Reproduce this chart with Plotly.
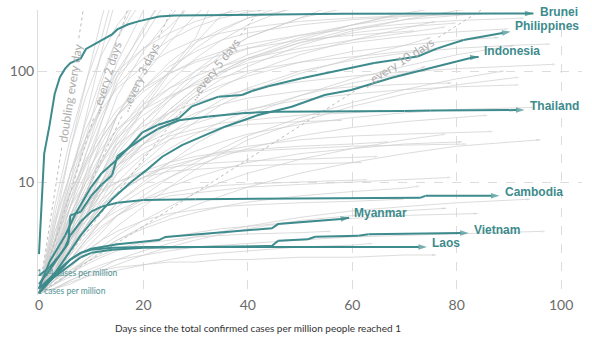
import math
import plotly.graph_objects as go

# ---------------- data ----------------
COUNTRIES = ["Brunei", "Philippines", "Indonesia", "Thailand",
             "Cambodia", "Myanmar", "Vietnam", "Laos"]

BRUNEI_DAYS = [0, 1, 2, 3, 4, 5, 6, 7, 8, 9, 10, 12, 14, 15, 17, 19, 21, 23, 26, 31, 40, 58, 94.7]
BRUNEI_VALS = [2.24, 18, 32, 62, 88, 105, 118, 124, 130, 158, 168, 190, 214, 237, 262, 280, 295, 309, 316, 318, 323, 328, 330]

PHILIPPINES_DAYS = [0, 2, 5, 7, 10, 12, 15, 17, 19.8, 22.7, 26.8, 29.3, 34.4, 38.9, 40.8, 43.9, 50.3, 57.9, 64.2, 72.5, 76.3, 81.3, 86.5, 90.3]
PHILIPPINES_VALS = [1.1, 1.9, 3.3, 5.2, 9, 12, 16, 20, 28, 32.6, 37.5, 48, 58.7, 60.8, 66, 73, 86, 102, 118, 135, 160, 190, 211, 226]

INDONESIA_DAYS = [0, 3, 6, 8, 10, 12, 14, 16, 18, 20.6, 23.6, 27.4, 31.2, 35.6, 42, 48.4, 54.7, 59.8, 67.4, 77, 83.2, 84.2]
INDONESIA_VALS = [1.0, 1.5, 2.4, 3.3, 4.3, 5.5, 7, 8.5, 10.3, 12.8, 16.9, 21.5, 25.6, 31.5, 40.1, 47.7, 60.8, 67.4, 86.5, 113, 133, 134]

THAILAND_DAYS = [0, 2, 4, 5.6, 6, 8, 10, 12, 14, 15, 17, 19.8, 22.7, 26.8, 32.5, 38.9, 45, 52, 60, 70, 75, 85, 93]
THAILAND_VALS = [1.2, 1.6, 2.2, 2.8, 5.0, 5.4, 7.5, 9.5, 11.5, 17, 20, 24.7, 30, 36, 39, 41.7, 43, 43, 43.5, 43.5, 44, 44.5, 44.5]

CAMBODIA_DAYS = [0, 2, 4, 5, 6, 8, 10, 12, 15, 20, 30, 50, 73, 74, 88.2]
CAMBODIA_VALS = [1.44, 1.7, 2.2, 2.6, 3.3, 4.4, 5.4, 6.0, 6.5, 6.9, 7.0, 7.1, 7.2, 7.5, 7.53]

MYANMAR_DAYS = [0, 3, 6, 8, 10, 12, 15, 19.8, 23, 24.2, 32.5, 40.1, 44.6, 45.8, 50.3, 54.7, 57.9, 59.4]
MYANMAR_VALS = [1.0, 1.4, 2.0, 2.3, 2.5, 2.6, 2.75, 2.9, 3.0, 3.2, 3.45, 3.64, 3.83, 4.18, 4.33, 4.54, 4.64, 4.77]

VIETNAM_DAYS = [0, 3, 6, 8, 10, 14, 20, 30, 44.6, 45.8, 51.5, 52.9, 61.2, 63.1, 73.8, 82.3]
VIETNAM_VALS = [1.1, 1.4, 1.8, 2.1, 2.3, 2.45, 2.55, 2.6, 2.65, 2.96, 3.05, 3.21, 3.28, 3.38, 3.45, 3.47]

LAOS_DAYS = [0, 3, 6, 8, 10, 14, 20, 30, 50, 74.3]
LAOS_VALS = [1.1, 1.5, 2.0, 2.3, 2.45, 2.55, 2.6, 2.6, 2.6, 2.6]

# background countries: values on a shared day grid, last point at its own end day
GRAY_GRID = [0, 3, 6, 9, 12, 15, 20, 25, 30, 35, 40, 50, 60, 70, 80, 90, 100]
GRAY_LINES = [
    [1, 4, 20, 80, 300, 900],
    [1, 3, 10, 40, 150, 500],
    [1, 2.5, 8, 25, 80, 200, 600],
    [1, 2, 6, 18, 50, 120, 350, 800],
    [1, 3, 12, 35, 90, 200, 450],
    [1, 1.5, 4, 12, 35, 90, 250, 500],
    [1, 2, 5, 10, 25, 60, 150, 300, 600],
    [1, 1.8, 3.5, 8, 18, 40, 90, 180, 320, 500],
    [1, 1.5, 3, 6, 12, 22, 45, 80, 130, 190, 260, 400],
    [1, 1.3, 2.5, 5, 10, 18, 35, 60, 100, 150, 200, 300, 380],
    [1, 2, 4, 7, 12, 20, 35, 55, 80, 110, 140, 200, 260, 320],
    [1, 1.6, 3, 5, 9, 15, 28, 45, 70, 100, 130, 190, 260, 330, 400],
    [1, 2.2, 5, 10, 18, 30, 50, 70, 90, 110, 130, 160, 190, 220, 250],
    [1, 1.4, 2.2, 4, 7, 12, 22, 38, 60, 85, 110, 170, 230, 290, 350, 400],
    [1, 3, 8, 16, 28, 45, 70, 95, 120, 140, 160, 190, 210, 230],
    [1, 1.8, 3.5, 6, 10, 16, 28, 42, 60, 75, 90, 120, 150, 170, 190, 200],
    [1, 2.5, 6, 12, 20, 30, 45, 60, 75, 88, 100, 120, 135, 150, 160],
    [1, 1.5, 2.5, 4, 6, 9, 15, 24, 35, 50, 65, 95, 130, 170, 200],
    [1, 2, 4, 7, 10, 14, 20, 26, 30, 34, 36, 40, 42, 44],
    [1, 1.8, 3, 5, 8, 12, 18, 24, 28, 31, 33, 35, 36],
    [1, 1.5, 2.5, 4, 6, 8, 11, 14, 16, 18, 19, 20, 21, 21.5, 22],
    [1, 2, 3.5, 5, 7, 9, 11, 12.5, 13, 13.5, 14, 14.5, 15],
    [1, 1.4, 2, 3, 4, 5, 6.5, 7.5, 8, 8.5, 9, 9.5, 10, 10.5, 11],
    [1, 1.3, 1.8, 2.4, 3, 3.6, 4.5, 5.2, 5.6, 6, 6.2, 6.5, 6.7, 7],
    [1, 1.2, 1.5, 1.8, 2.1, 2.4, 2.8, 3, 3.2, 3.3, 3.4, 3.5, 3.6],
    [1, 1.1, 1.3, 1.5, 1.6, 1.7, 1.8, 1.9, 1.9, 2, 2, 2.1, 2.1, 2.2, 2.2],
    [1, 1.2, 1.4, 1.6, 1.8, 2, 2.2, 2.4, 2.6, 2.7, 2.8, 3, 3.2, 3.3, 3.4, 3.5, 3.6],
    [1, 1.5, 2.2, 3.2, 4.5, 6, 8.5, 11, 14, 17, 20, 26, 31, 35, 38, 40],
    [1, 2.5, 5, 8, 12, 16, 22, 28, 34, 40, 45, 55, 62, 68, 72, 75],
    [1, 1.6, 2.6, 4, 6, 9, 14, 20, 27, 35, 44, 60, 78, 95, 110],
    [1, 1.3, 1.8, 2.5, 3.5, 5, 7.5, 11, 15, 20, 26, 38, 52, 68, 85, 100],
    [1, 1.2, 1.5, 2, 2.6, 3.3, 4.5, 6, 8, 10, 12, 16, 20, 24, 27],
    [1, 1.4, 2, 2.8, 3.8, 5, 7, 9, 11, 13, 15, 18, 20, 22, 23],
    [1, 2, 3, 4.5, 6, 8, 11, 15, 19, 23, 27, 33, 38, 42, 45, 47],
    [1, 3, 6, 10, 15, 22, 32, 42, 52, 60, 68, 80, 90, 98, 105, 110, 115],
    [1, 1.7, 3, 5, 8, 13, 22, 35, 52, 72, 95, 140, 190, 240, 280],
    [1, 2.8, 7, 14, 25, 40, 65, 95, 125, 150, 175, 210, 240, 265, 285, 300],
    [1, 1.5, 2.5, 4, 6.5, 10, 17, 27, 40, 55, 70, 100, 125, 145, 160, 170, 175],
    [1, 2, 4, 8, 15, 28, 55, 100, 160, 230, 300, 400],
    [1, 1.3, 2, 3, 4.5, 6.5, 10, 15, 22, 30, 40, 60, 85, 110, 140, 170],
    [1, 1.2, 1.6, 2, 2.5, 3, 3.8, 4.6, 5.3, 6, 6.6, 7.5, 8.2, 8.8, 9.2],
    [1, 1.1, 1.2, 1.4, 1.5, 1.6, 1.8, 2, 2.2, 2.3, 2.4, 2.6, 2.7, 2.8],
    [1, 1.3, 1.6, 1.9, 2.2, 2.5, 2.9, 3.2, 3.5, 3.8, 4, 4.4, 4.7, 5, 5.2],
    [1, 4, 12, 30, 60, 100, 160, 220, 280, 330, 370],
    [1, 5, 20, 60, 140, 260, 450],
    [1, 2.5, 7, 18, 40, 75, 130, 190, 250, 300, 340, 400],
    [1, 1.8, 4, 8, 15, 26, 45, 70, 100, 130, 160, 210, 260, 300],
    [1, 1.4, 2.5, 4.5, 8, 14, 26, 45, 70, 100, 130, 180, 220, 250, 270],
    [1, 2, 5, 11, 22, 40, 70, 110, 150, 190, 220, 260, 290, 310, 325],
    [1, 1.6, 3, 5.5, 9, 14, 22, 32, 42, 50, 57, 66, 72, 76, 78],
    [1, 1.3, 2, 3, 4.5, 6.5, 9.5, 13, 16, 19, 21, 24, 26, 27, 28, 28.5],
    [1, 1.1, 1.3, 1.5, 1.7, 2, 2.4, 2.8, 3.2, 3.6, 4, 4.8, 5.5, 6, 6.5, 7],
    [1, 3.5, 10, 25, 50, 90, 160, 250, 350],
    [1, 1.5, 3, 6, 12, 24, 50, 100, 200, 400],
    [1, 2, 4.5, 9, 16, 25, 40, 58, 78, 98, 118, 150, 180, 205, 225, 240],
    [1, 1.2, 1.5, 1.9, 2.4, 3, 4, 5, 6.2, 7.5, 9, 12, 15, 18, 21, 24],
    [1, 2.2, 4, 6, 8, 10, 12.5, 15, 17, 18.5, 19.5, 21, 22, 23],
    [1, 2.5, 4.5, 6.5, 8.5, 10, 12, 13.5, 14.5, 15, 15.5, 16, 16.5, 17],
    [1, 1.6, 2.5, 3.5, 4.5, 5.5, 7, 8, 8.8, 9.3, 9.6, 10, 10.3, 10.5],
    [1, 1.5, 2.8, 5, 9, 16, 30, 55, 90, 140, 200, 300, 400],
    [1, 2.2, 6, 15, 35, 80, 200, 400],
    [1, 1.6, 3.5, 8, 18, 40, 100, 220, 450],
    [1, 2.8, 9, 22, 50, 100, 230, 420],
    [1, 1.4, 2.6, 5, 10, 20, 45, 95, 180, 320, 450],
    [1, 3.5, 8, 15, 25, 40, 70, 120, 180, 240, 300, 380],
    [1, 2, 3.5, 6, 9, 14, 25, 42, 65, 95, 125, 180, 240, 290, 330],
    [1, 4.5, 12, 25, 45, 70, 110, 150, 190, 220, 245, 280, 300, 315, 325, 330],
    [1, 1.3, 1.7, 2.3, 3, 4, 6, 9, 13, 18, 24, 35, 48, 62, 75, 88],
    [1, 1.1, 1.25, 1.4, 1.6, 1.8, 2.2, 2.6, 3, 3.4, 3.8, 4.5, 5, 5.5, 5.8],
    [1, 6, 25, 80, 200, 450],
]
GRAY_END = [15, 15, 20, 25, 20, 25, 30, 35, 50, 60, 68, 80, 78, 90, 72, 88, 77, 75, 66, 58,
            82, 62, 79, 70, 56, 76, 97, 86, 92, 74, 89, 78, 81, 95, 99, 76, 93, 98, 48, 91,
            73, 64, 84, 44, 19, 52, 69, 80, 83, 79, 87, 94, 28, 33, 90, 96, 67, 65, 63, 57,
            24, 29, 23, 42, 51, 85, 88, 92, 78, 14]

GUIDE_PERIODS = [1, 2, 3, 5, 10]
GUIDE_LABELS = ["doubling every day", "...every 2 days", "...every 3 days",
                "...every 5 days", "...every 10 days"]
GUIDE_LABEL_DAY = [6.0, 12.9, 19.4, 33.5, 68.9]
GUIDE_LABEL_LEN = [104, 80, 80, 80, 88]

START_LABELS = ["1.44 cases per million", "1 cases per million"]
START_LABEL_VALUES = [1.5, 1.04]

X_TICKS = [0, 20, 40, 60, 80, 100]
Y_TICKS = [10, 100]

# ---------------- style ----------------
TEAL = "#3d8b8c"
GRAY = "rgba(205,205,205,0.7)"
PX_PER_DAY = 5.25
PX_PER_DECADE = 111.0
X_RANGE = [-0.19, 104.0]
Y_RANGE = [-0.018, 2.5495]

fig = go.Figure()

# background countries
for vals, end in zip(GRAY_LINES, GRAY_END):
    days = GRAY_GRID[:len(vals) - 1] + [end]
    n = len(days)
    fig.add_trace(go.Scatter(
        x=days, y=vals, mode="lines+markers",
        line=dict(color=GRAY, width=1),
        marker=dict(symbol=["circle"] * (n - 1) + ["arrow"],
                    size=[0] * (n - 1) + [4], angleref="previous",
                    color="rgba(205,205,205,0.8)", line=dict(width=0)),
        hoverinfo="skip", showlegend=False))

# guide lines
annotations = []
y_top = 10 ** Y_RANGE[1]
for d, lab, xc, L in zip(GUIDE_PERIODS, GUIDE_LABELS, GUIDE_LABEL_DAY, GUIDE_LABEL_LEN):
    slope_px = PX_PER_DECADE * math.log10(2) / d  # px per day vertical
    ang = math.degrees(math.atan2(slope_px, PX_PER_DAY))
    half_days = (L / 2 + 3) * math.cos(math.radians(ang)) / PX_PER_DAY
    x_end = d * math.log2(y_top * 1.2)
    for xa, xb in [(0, xc - half_days), (xc + half_days, x_end)]:
        fig.add_trace(go.Scatter(
            x=[xa, xb], y=[2 ** (xa / d), 2 ** (xb / d)], mode="lines",
            line=dict(color="#bdbdbd", width=1, dash="dot"),
            hoverinfo="skip", showlegend=False))
    annotations.append(dict(
        x=xc, y=(xc / d) * math.log10(2), xref="x", yref="y",
        text=lab, showarrow=False, textangle=-ang,
        xanchor="center", yanchor="middle",
        font=dict(family="Lato", size=12, color="#adadad")))

# highlighted countries
SERIES = [
    (BRUNEI_DAYS, BRUNEI_VALS, 1),
    (PHILIPPINES_DAYS, PHILIPPINES_VALS, 6),
    (INDONESIA_DAYS, INDONESIA_VALS, 6),
    (THAILAND_DAYS, THAILAND_VALS, 4),
    (CAMBODIA_DAYS, CAMBODIA_VALS, 4),
    (MYANMAR_DAYS, MYANMAR_VALS, 5),
    (VIETNAM_DAYS, VIETNAM_VALS, 3),
    (LAOS_DAYS, LAOS_VALS, 4),
]
for name, (days, vals, yshift) in zip(COUNTRIES, SERIES):
    n = len(days)
    fig.add_trace(go.Scatter(
        x=days, y=vals, mode="lines+markers", name=name,
        line=dict(color=TEAL, width=2),
        marker=dict(symbol=["circle"] * (n - 1) + ["arrow"],
                    size=[6] + [0] * (n - 2) + [9], angleref="previous",
                    color=TEAL, line=dict(width=0)),
        cliponaxis=False, showlegend=False))
    annotations.append(dict(
        x=days[-1], y=math.log10(vals[-1]), xref="x", yref="y",
        text=name, showarrow=False, xanchor="left", yanchor="middle",
        xshift=5 if name == "Brunei" else 3, yshift=yshift,
        font=dict(family="Liberation Sans", size=12, color=TEAL, weight="bold")))

for lab, v in zip(START_LABELS, START_LABEL_VALUES):
    annotations.append(dict(x=0, y=math.log10(v), xref="x", yref="y", text=lab,
                            showarrow=False, xanchor="left", yanchor="middle", xshift=-4,
                            font=dict(family="Lato", size=8.5, color="#4f9394")))

plot_w = 592 - 35 - 10
plot_h = 346 - 10 - 51
annotations.append(dict(x=(256 - 35) / plot_w, y=-(328 - 295) / plot_h,
                        xref="paper", yref="paper",
                        text="Days since the total confirmed cases per million people reached 1",
                        showarrow=False, xanchor="center", yanchor="middle",
                        font=dict(family="Lato", size=10, color="#333333")))

fig.update_layout(
    width=592, height=346,
    margin=dict(l=35, r=10, t=10, b=51),
    paper_bgcolor="white", plot_bgcolor="white",
    showlegend=False,
    annotations=annotations,
    xaxis=dict(range=X_RANGE, tickvals=X_TICKS, showgrid=True,
               gridcolor="#dddddd", griddash="dash", gridwidth=1,
               zeroline=False, showline=False, ticks="",
               tickfont=dict(family="Lato", size=14, color="#6b6b6b")),
    yaxis=dict(type="log", range=Y_RANGE, tickvals=Y_TICKS, ticktext=["10", "100"],
               showgrid=True, gridcolor="#dddddd", griddash="dash", gridwidth=1,
               zeroline=False, showline=True, linecolor="#dddddd", linewidth=1,
               ticks="", tickfont=dict(family="Lato", size=14, color="#6b6b6b")),
)

fig.write_html("out.html")
